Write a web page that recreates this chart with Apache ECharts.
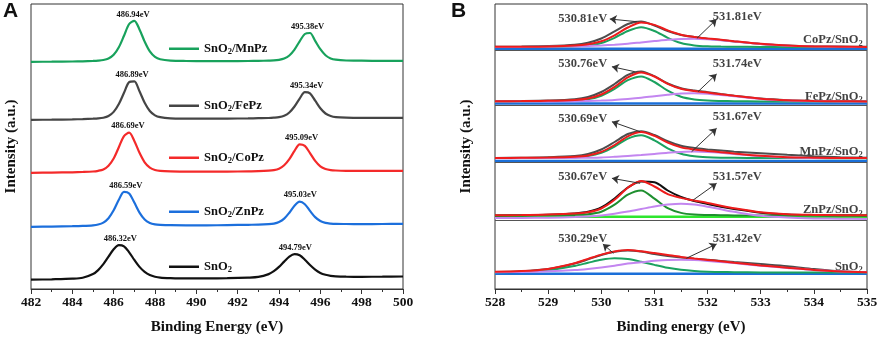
<!DOCTYPE html>
<html>
<head>
<meta charset="utf-8">
<script src="https://cdn.jsdelivr.net/npm/echarts@6/dist/echarts.min.js"></script>
<style>
  html, body { margin: 0; padding: 0; background: #fff; }
  #chart { width: 879px; height: 339px; }
</style>
</head>
<body>
<div id="chart"></div>
<script>
// ---- panel A : Sn 3d ----
const xA = [482, 483, 484, 484.5, 485, 485.25, 485.5, 485.75, 486, 486.25, 486.5, 486.75, 487, 487.25, 487.5, 487.75, 488, 488.25,
    488.75, 489.5, 490.5, 491.5, 492.5, 493,
    493.5, 493.75, 494, 494.25, 494.5, 494.75, 495, 495.25, 495.5, 495.75, 496, 496.25, 496.5, 496.75,
    497.25, 498, 499, 500];
const aMnPz = [227.2, 227.3, 227.5, 227.7, 228.1, 228.4, 229.0, 230.5, 234.2, 241.7, 253.2, 265.0, 268.2, 259.6, 247.4, 237.6, 232.2, 229.8,
    228.4, 228.0, 227.9, 227.9, 228.0, 228.1,
    228.4, 228.6, 229.2, 230.5, 233.5, 239.4, 247.7, 255.0, 256.0, 248.1, 239.8, 233.8, 230.6, 229.3,
    228.5, 228.3, 228.1, 228.1];
const aFePz = [169.2, 169.3, 169.6, 169.9, 170.3, 170.6, 171.3, 173.0, 177.1, 185.0, 196.2, 206.8, 207.6, 197.7, 186.3, 178.0, 173.6, 171.8,
    170.7, 170.4, 170.3, 170.4, 170.6, 170.8,
    171.0, 171.3, 171.8, 173.2, 176.5, 182.5, 190.4, 196.8, 195.6, 188.3, 180.7, 175.5, 173.0, 171.9,
    171.3, 171.1, 171.1, 171.1];
const aCoPz = [116.2, 116.4, 116.7, 117.0, 117.5, 118.2, 119.6, 123.3, 130.5, 141.8, 152.9, 156.3, 148.1, 136.2, 126.7, 121.4, 119.0, 118.1,
    117.6, 117.4, 117.3, 117.4, 117.6, 117.8,
    118.3, 118.9, 120.3, 123.7, 129.9, 138.1, 144.7, 143.1, 135.9, 128.1, 122.7, 120.0, 118.9, 118.5,
    118.2, 118.1, 118.1, 118.1];
const aZnPz = [62.2, 62.4, 62.8, 63.1, 63.7, 64.5, 66.4, 70.8, 78.7, 89.2, 97.1, 95.6, 86.4, 76.4, 69.5, 66.1, 64.7, 64.2,
    63.8, 63.7, 63.7, 63.9, 64.2, 64.3,
    64.8, 65.4, 67.0, 70.4, 76.3, 83.3, 87.3, 84.8, 78.1, 71.9, 68.0, 66.1, 65.4, 65.1,
    65.0, 64.9, 65.0, 65.1];
const aSnO2 = [9.3, 9.7, 10.3, 11.2, 14.9, 18.9, 24.8, 32.3, 39.7, 43.9, 42.7, 36.7, 29.1, 22.1, 17.1, 13.9, 12.3, 11.4,
    10.9, 10.6, 10.6, 10.8, 11.4, 12.1,
    14.9, 17.8, 22.1, 27.4, 32.4, 34.9, 33.7, 29.3, 24.0, 19.4, 16.1, 14.2, 13.1, 12.6,
    12.3, 12.2, 12.3, 12.5];
const aNames = ["SnO2/MnPz", "SnO2/FePz", "SnO2/CoPz", "SnO2/ZnPz", "SnO2"];
const aPeaks = [[486.94, 495.38], [486.89, 495.34], [486.69, 495.09], [486.59, 495.03], [486.32, 494.79]];

// ---- panel B : O 1s ----
const xB = [528, 528.5, 529, 529.5, 529.75, 530, 530.25, 530.5, 530.75, 531, 531.25, 531.5, 531.75, 532, 532.25, 532.5, 533, 533.5, 534, 534.5, 535];
const bNames = ["CoPz/SnO2", "FePz/SnO2", "MnPz/SnO2", "ZnPz/SnO2", "SnO2"];
const bExp = [
    [242.2, 242.4, 242.9, 244.2, 246.3, 250.5, 257.6, 265.0, 267.4, 263.5, 258.0, 254.0, 252.0, 250.3, 249.0, 247.6, 245.0, 243.5, 242.7, 242.4, 242.2],
    [187.8, 188.0, 188.5, 189.8, 192.0, 197.0, 205.0, 214.2, 217.6, 212.8, 205.5, 200.8, 198.5, 196.8, 195.0, 193.3, 190.4, 188.8, 188.1, 187.8, 187.7],
    [131.0, 131.3, 131.8, 133.0, 135.0, 139.5, 147.0, 155.0, 157.8, 154.0, 147.8, 143.2, 141.0, 139.6, 138.4, 137.3, 135.8, 134.2, 132.8, 131.8, 131.2],
    [73.6, 73.8, 74.3, 75.6, 77.2, 81.5, 90.5, 101.5, 107.5, 106.8, 98.5, 92.0, 88.0, 85.0, 82.3, 80.0, 76.3, 74.6, 74.0, 73.7, 73.6],
    [17.0, 17.8, 20.0, 25.5, 29.6, 34.0, 37.2, 38.6, 37.5, 35.0, 33.0, 31.4, 30.2, 29.2, 28.1, 27.0, 24.9, 22.8, 20.0, 17.8, 16.9]
];
const bFit = [
    [242.2, 242.3, 242.6, 243.5, 244.8, 247.7, 253.7, 261.5, 266.6, 264.1, 258.6, 254.3, 252.1, 250.6, 249.3, 247.8, 245.2, 243.4, 242.6, 242.3, 242.1],
    [187.7, 187.9, 188.2, 189.1, 190.6, 194.5, 202.1, 211.7, 216.6, 212.5, 205.2, 200.2, 197.9, 196.4, 194.8, 193.2, 190.3, 188.7, 188.0, 187.7, 187.6],
    [131.0, 131.2, 131.5, 132.3, 133.6, 137.1, 144.0, 152.7, 157.0, 153.1, 146.3, 141.6, 139.5, 138.1, 136.8, 135.5, 133.2, 131.8, 131.3, 131.0, 131.0],
    [73.8, 73.9, 74.4, 75.5, 76.8, 80.5, 89.2, 101.3, 108.1, 102.5, 94.9, 91.1, 88.5, 86.1, 83.3, 80.7, 76.7, 74.8, 74.1, 73.8, 73.7],
    [17.2, 17.9, 20.1, 25.8, 30.1, 34.4, 37.5, 39.0, 37.7, 35.9, 34.0, 32.1, 30.5, 29.1, 27.7, 26.3, 23.6, 21.3, 19.1, 17.6, 16.8]
];
const bLattice = [
    [242.0, 242.1, 242.2, 242.7, 243.6, 246.0, 251.2, 258.0, 261.8, 258.0, 251.2, 246.0, 243.6, 242.7, 242.4, 242.2, 242.1, 242.0, 241.9, 241.9, 241.9],
    [187.5, 187.6, 187.9, 188.5, 189.8, 193.3, 200.2, 208.9, 212.6, 207.0, 198.3, 192.2, 189.5, 188.4, 188.0, 187.8, 187.6, 187.5, 187.5, 187.4, 187.4],
    [130.9, 131.0, 131.2, 131.8, 133.0, 136.2, 142.5, 150.4, 153.8, 148.7, 140.7, 135.2, 132.7, 131.7, 131.3, 131.2, 131.0, 130.9, 130.9, 130.8, 130.8],
    [73.5, 73.5, 73.7, 74.1, 74.8, 77.3, 84.3, 94.3, 98.5, 90.3, 80.8, 76.1, 74.4, 74.0, 73.8, 73.6, 73.5, 73.4, 73.4, 73.4, 73.4],
    [16.8, 17.2, 18.7, 23.1, 26.2, 29.2, 30.7, 29.9, 27.3, 24.1, 21.2, 19.2, 18.0, 17.3, 17.0, 16.8, 16.6, 16.5, 16.5, 16.4, 16.4]
];
const bVacancy = [
    [242.0, 242.1, 242.2, 242.6, 242.9, 243.5, 244.3, 245.3, 246.6, 247.9, 249.2, 250.1, 250.2, 249.7, 248.7, 247.4, 244.9, 243.2, 242.5, 242.2, 242.0],
    [187.5, 187.5, 187.6, 187.8, 188.1, 188.5, 189.1, 190.1, 191.3, 192.8, 194.2, 195.4, 195.8, 195.3, 194.1, 192.7, 190.0, 188.4, 187.8, 187.6, 187.5],
    [130.8, 130.9, 130.9, 131.1, 131.3, 131.6, 132.2, 132.9, 133.9, 135.1, 136.3, 137.1, 137.5, 137.1, 136.2, 135.0, 132.9, 131.6, 131.1, 130.9, 130.9],
    [71.0, 71.1, 71.3, 71.9, 72.5, 73.6, 75.3, 77.4, 79.9, 82.5, 84.4, 85.3, 84.4, 82.3, 79.7, 77.2, 73.2, 71.4, 70.6, 70.3, 70.1],
    [16.8, 17.0, 17.7, 19.0, 20.1, 21.5, 23.2, 25.4, 26.7, 28.2, 29.1, 29.2, 28.9, 28.1, 27.0, 25.9, 23.3, 21.0, 18.9, 17.5, 16.7]
];
const bBase = [240.3, 185.5, 128.0, 72.3, 15.3];
const bSep = [238.5, 183.5, 126.3, 69.0];
const bPeaks = [[530.81, 531.81], [530.76, 531.74], [530.69, 531.67], [530.67, 531.57], [530.29, 531.42]];
// annotation anchors (data units)
const bLabelX = [529.65, 532.56];
const bLabelY = [[270.7, 272.3], [225.7, 225.7], [170.7, 172.3], [112.3, 112.3], [50.7, 50.7]];
const bNameY = [249, 192.3, 137.3, 79, 22.3];
const bArrows = [
    [[[530.67, 267.3], [530.16, 270]], [[531.8, 250.7], [532.17, 269.7]]],
    [[[530.63, 217.3], [530.2, 222.3]], [[531.82, 197.3], [532.17, 215]]],
    [[[530.73, 157.3], [530.2, 167.3]], [[531.7, 137.3], [532.17, 160.7]]],
    [[[530.73, 105.7], [530.2, 110.7]], [[531.73, 89], [532.17, 105.7]]],
    [[[530.23, 35.7], [530.03, 45]], [[531.6, 30.7], [532.17, 45]]]
];

const serif = '"Liberation Serif", "Times New Roman", serif';
const aColors = ["#18a25c", "#454545", "#f42a2a", "#1c6fdc", "#111111"];
const rich = {
    n: { fontFamily: serif, fontWeight: "bold", fontSize: 12.5, color: "#111" },
    s: { fontFamily: serif, fontWeight: "bold", fontSize: 8.5, color: "#111", padding: [7, 0, 0, 0] }
};

const richName = t => t.split("SnO2").map(p => (p ? "{n|" + p + "}" : "")).join("{n|SnO}{s|2}");
const zip = (xs, ys) => xs.map((x, i) => [x, ys[i]]);

const axisText = { fontFamily: serif, fontWeight: "bold", color: "#111" };

const makeX = (gridIndex, min, max, name) => ({
    gridIndex,
    type: "value",
    min,
    max,
    interval: max - min > 10 ? 2 : 1,
    name,
    nameLocation: "middle",
    nameGap: 31,
    nameTextStyle: { ...axisText, fontSize: 15 },
    axisLine: { show: true, onZero: false, lineStyle: { color: "#333", width: 1 } },
    axisTick: { show: true, length: 5, lineStyle: { color: "#333" } },
    minorTick: { show: true, splitNumber: 2, length: 3, lineStyle: { color: "#333" } },
    axisLabel: { ...axisText, fontSize: 13.5, margin: 7 },
    splitLine: { show: false }
});

const makeY = (gridIndex, nameGap) => ({
    gridIndex,
    type: "value",
    min: 0,
    max: 285,
    name: "Intensity (a.u.)",
    nameLocation: "middle",
    nameGap,
    nameTextStyle: { ...axisText, fontSize: 15 },
    axisLine: { show: false },
    axisTick: { show: false },
    axisLabel: { show: false },
    splitLine: { show: false }
});

let series = [];

// panel A curves + peak labels
[aMnPz, aFePz, aCoPz, aZnPz, aSnO2].forEach((ys, i) => {
    const data = zip(xA, ys);
    const marks = aPeaks[i].map(p => {
        const top = Math.max(...data.filter(d => Math.abs(d[0] - p) < 0.4).map(d => d[1]));
        return { coord: [p, top], value: p.toFixed(2) + "eV" };
    });
    series.push({
        name: aNames[i],
        type: "line",
        xAxisIndex: 0,
        yAxisIndex: 0,
        data,
        symbol: "none",
        smooth: 0.3,
        lineStyle: { color: aColors[i], width: 2.2 },
        itemStyle: { color: aColors[i] },
        markPoint: {
            silent: true,
            symbol: "circle",
            symbolSize: 0,
            label: { show: true, position: "top", distance: 2, formatter: p => p.value, ...axisText, fontSize: 8.5 },
            data: marks
        }
    });
});

// panel B curves
const line = (name, data, color, width, extra) => Object.assign({
    name,
    type: "line",
    xAxisIndex: 1,
    yAxisIndex: 1,
    data,
    symbol: "none",
    smooth: 0.3,
    silent: true,
    lineStyle: { color, width },
    itemStyle: { color }
}, extra || {});

for (let r = 0; r < bNames.length; r++) {
    const zn = r === 3;
    series.push(line("base" + r, [[528, bBase[r]], [535, bBase[r]]], zn ? "#2ee62e" : "#1b6fd8", 2.5,
        r < bSep.length ? {
            markLine: {
                silent: true,
                symbol: "none",
                label: { show: false },
                lineStyle: { color: "#555", width: 1, type: "solid" },
                data: [{ yAxis: bSep[r] }]
            }
        } : {}));
    series.push(line("exp" + r, zip(xB, bExp[r]), zn ? "#111" : "#4d4d4d", 2));
    series.push(line("c1" + r, zip(xB, bLattice[r]), zn ? "#1f8f2f" : "#1ba25f", 2));
    series.push(line("c2" + r, zip(xB, bVacancy[r]), "#c386f0", 2));
    series.push(line("fit" + r, zip(xB, bFit[r]), "#ee1c1c", 2, {
        markLine: {
            silent: true,
            symbol: ["none", "arrow"],
            symbolSize: 7,
            label: { show: false },
            lineStyle: { color: "#333", width: 1, type: "solid" },
            data: bArrows[r].map(a => [{ coord: a[0] }, { coord: a[1] }])
        }
    }));
}

// panel B peak labels and sample names
let peakText = [];
let nameText = [];
bPeaks.forEach((pk, r) => {
    pk.forEach((p, k) => peakText.push({ value: [bLabelX[k], bLabelY[r][k]], name: p.toFixed(2) + "eV" }));
    nameText.push({ value: [534.93, bNameY[r]], name: bNames[r] });
});
series.push({
    type: "scatter",
    xAxisIndex: 1,
    yAxisIndex: 1,
    silent: true,
    symbolSize: 1,
    itemStyle: { color: "rgba(0,0,0,0)" },
    label: { show: true, position: "inside", formatter: p => p.name, ...axisText, fontSize: 12.5 },
    data: peakText
});
series.push({
    type: "scatter",
    xAxisIndex: 1,
    yAxisIndex: 1,
    silent: true,
    symbolSize: 1,
    itemStyle: { color: "rgba(0,0,0,0)" },
    label: { show: true, position: "left", distance: 0, formatter: p => richName(p.name), rich },
    data: nameText
});

const legendCenter = [50, 107, 159, 213, 268];

const option = {
    animation: false,
    backgroundColor: "#fff",
    title: [
        { text: "A", left: 3, top: 1, padding: 0, textStyle: { fontFamily: '"Liberation Sans", Arial, sans-serif', fontWeight: "bold", fontSize: 21, color: "#111" } },
        { text: "B", left: 451, top: 1, padding: 0, textStyle: { fontFamily: '"Liberation Sans", Arial, sans-serif', fontWeight: "bold", fontSize: 21, color: "#111" } }
    ],
    grid: [
        { left: 31, right: 476, top: 4, bottom: 50, show: true, borderColor: "#333", borderWidth: 1, outerBoundsMode: "none" },
        { left: 495, right: 12, top: 4, bottom: 50, show: true, borderColor: "#333", borderWidth: 1, outerBoundsMode: "none" }
    ],
    legend: aNames.map((n, i) => ({
        data: [n],
        left: 169,
        top: legendCenter[i] - 7.75,
        padding: 0,
        icon: "rect",
        itemWidth: 30,
        itemHeight: 2.5,
        itemGap: 0,
        selectedMode: false,
        formatter: richName,
        textStyle: { rich }
    })),
    xAxis: [makeX(0, 482, 500, "Binding Energy (eV)"), makeX(1, 528, 535, "Binding energy (eV)")],
    yAxis: [makeY(0, 12), makeY(1, 21)],
    series
};

const chart = echarts.init(document.getElementById("chart"));
chart.setOption(option);
</script>
</body>
</html>
